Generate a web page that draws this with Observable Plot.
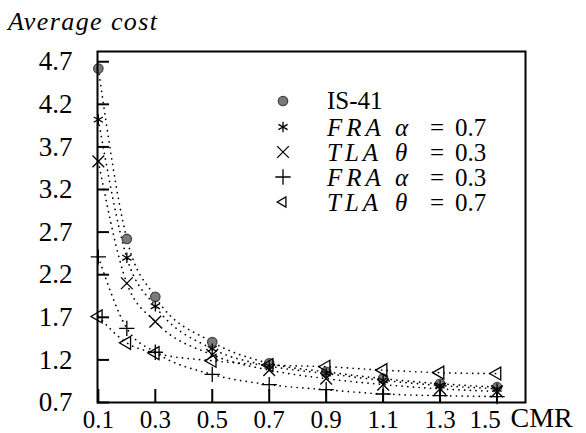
<!DOCTYPE html>
<html><head><meta charset="utf-8">
<script src="https://cdn.jsdelivr.net/npm/d3@7"></script>
<script src="https://cdn.jsdelivr.net/npm/@observablehq/plot@0.6"></script>
<style>
body{margin:0;background:#fff;font-family:"Liberation Serif","Times New Roman","DejaVu Serif",serif;color:#000;}
#wrap{position:relative;width:586px;height:433px;overflow:hidden;}
#title{height:36px;position:relative;}
#title span{position:absolute;left:8px;top:9px;font-style:italic;font-size:26px;line-height:1;letter-spacing:1.4px;}
#legend{position:absolute;left:0;top:0;}
.lpart{position:absolute;height:24px;line-height:24px;font-size:25px;white-space:nowrap;}
.lsym{position:absolute;}
</style></head><body>
<div id="wrap"><div id="title"><span>Average cost</span></div><div id="chart"></div><div id="legend"></div></div>
<script>
// ---- data ----
const cmr   = [0.1, 0.2, 0.3, 0.5, 0.7, 0.9, 1.1, 1.3, 1.5];
const is41  = [4.62, 2.62, 1.94, 1.41, 1.16, 1.06, 0.98, 0.92, 0.88];
const fra07 = [4.02, 2.40, 1.83, 1.33, 1.13, 1.04, 0.96, 0.90, 0.86];
const tla03 = [3.53, 2.10, 1.65, 1.26, 1.08, 0.98, 0.91, 0.86, 0.83];
const fra03 = [2.41, 1.57, 1.29, 1.03, 0.91, 0.85, 0.80, 0.78, 0.77];
const tla07 = [1.71, 1.40, 1.28, 1.19, 1.14, 1.12, 1.08, 1.05, 1.04];
const xTicks = [0.1, 0.3, 0.5, 0.7, 0.9, 1.1, 1.3, 1.5];
const yTicks = [0.7, 1.2, 1.7, 2.2, 2.7, 3.2, 3.7, 4.2, 4.7];
const xLabel = "CMR";
const legendNames  = ["IS-41", "FRA", "TLA", "FRA", "TLA"];
const legendGreek  = ["", "α", "θ", "α", "θ"];
const legendParams = ["", "0.7", "0.3", "0.3", "0.7"];

const series = [
  {key: "IS-41", values: is41,  symbol: "circle",   r: 4.7, fill: "#7a7a7a", stroke: "#444", rotate: 0},
  {key: "FRA a=0.7", values: fra07, symbol: "asterisk", r: 5,   fill: "none", stroke: "#000", rotate: 0},
  {key: "TLA t=0.3", values: tla03, symbol: "times",    r: 5.4, fill: "none", stroke: "#000", rotate: 0},
  {key: "FRA a=0.3", values: fra03, symbol: "plus",     r: 5,   fill: "none", stroke: "#000", rotate: 0},
  {key: "TLA t=0.7", values: tla07, symbol: "triangle", r: 4.8, fill: "none", stroke: "#000", rotate: -90}
];
const rows = [];
series.forEach(s => s.values.forEach((v, i) => rows.push({series: s.key, cmr: cmr[i], cost: v})));

const font = "'Liberation Serif','Times New Roman','DejaVu Serif',serif";
const fmt = d3.format(".1f");
const lastTick = xTicks[xTicks.length - 1];
const plot = Plot.plot({
  width: 586, height: 397,
  marginTop: 15, marginBottom: 31, marginLeft: 97, marginRight: 61,
  style: {fontFamily: font, background: "#fff", color: "#000"},
  x: {domain: [0.097, 1.6], axis: null},
  y: {domain: [0.7, 4.82], axis: null},
  marks: [
    Plot.line(rows, {x: "cmr", y: "cost", z: "series", curve: "monotone-x",
      stroke: "#000", strokeWidth: 1.7, strokeDasharray: "0.1,5.6", strokeLinecap: "round"}),
    ...series.map(s => Plot.dot(rows.filter(d => d.series === s.key), {
      x: "cmr", y: "cost", symbol: s.symbol, r: s.r, fill: s.fill, stroke: s.stroke,
      strokeWidth: 1.3, rotate: s.rotate})),
    Plot.frame({stroke: "#000", strokeWidth: 2}),
    Plot.axisY(yTicks, {anchor: "left", tickSize: -12, tickPadding: 37, strokeWidth: 2,
      fontSize: 27, fontFamily: font, tickFormat: fmt, label: null}),
    Plot.axisX(xTicks, {anchor: "bottom", tickSize: -13, tickPadding: 21, strokeWidth: 2,
      fontSize: 25, fontFamily: font, tickFormat: d => d === lastTick ? "" : fmt(d), label: null}),
    Plot.text([lastTick], {x: d => d, text: fmt, frameAnchor: "bottom", lineAnchor: "top",
      dx: -12, dy: 8, fontSize: 25, fontFamily: font}),
    Plot.text([xLabel], {frameAnchor: "bottom-right", text: d => d, textAnchor: "start",
      lineAnchor: "top", dx: -15, dy: 5, fontSize: 28, fontFamily: font, letterSpacing: 3})
  ]
});
document.getElementById("chart").appendChild(plot);

// ---- legend ----
const legend = document.getElementById("legend");
const rowY = [101, 126.5, 152, 177, 201.5];
const symMap = {circle: d3.symbolCircle, asterisk: d3.symbolAsterisk, times: d3.symbolTimes, plus: d3.symbolPlus, triangle: d3.symbolTriangle2};
function part(text, left, y, style) {
  const d = document.createElement("div");
  d.className = "lpart";
  d.textContent = text;
  d.style.left = left + "px"; d.style.top = (y - 12) + "px";
  Object.assign(d.style, style || {});
  legend.appendChild(d);
}
series.forEach((s, i) => {
  const svg = document.createElementNS("http://www.w3.org/2000/svg", "svg");
  svg.setAttribute("width", 20); svg.setAttribute("height", 20);
  svg.setAttribute("class", "lsym");
  svg.style.left = (283 - 10) + "px"; svg.style.top = (rowY[i] - 10) + "px";
  const p = document.createElementNS("http://www.w3.org/2000/svg", "path");
  p.setAttribute("d", d3.symbol(symMap[s.symbol], s.r * s.r * Math.PI)());
  p.setAttribute("transform", `translate(10,10) rotate(${s.rotate})`);
  p.setAttribute("fill", s.fill); p.setAttribute("stroke", s.stroke); p.setAttribute("stroke-width", 1.3);
  svg.appendChild(p);
  legend.appendChild(svg);
  if (legendGreek[i]) {
    part(legendNames[i], 327, rowY[i] + 1, {fontStyle: "italic", letterSpacing: "4px"});
    part(legendGreek[i], 395, rowY[i] + 1, {fontStyle: "italic"});
    part("=", 430, rowY[i] + 1);
    part(legendParams[i], 455, rowY[i] + 1);
  } else {
    part(legendNames[i], 327, rowY[i]);
  }
});
</script>
</body></html>
